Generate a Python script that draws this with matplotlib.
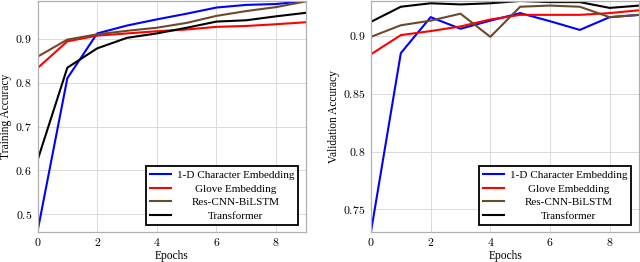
import numpy as np
import matplotlib
matplotlib.use('Agg')
import matplotlib.pyplot as plt
from matplotlib.ticker import FuncFormatter

plt.rcParams['font.family'] = ['Liberation Serif', 'DejaVu Serif']
plt.rcParams['mathtext.fontset'] = 'cm'
plt.rcParams['font.size'] = 8

epochs = list(range(10))
labels = ['1-D Character Embedding', 'Glove Embedding', 'Res-CNN-BiLSTM', 'Transformer']
colors = ['#0000ff', '#ff0000', '#6b4a2b', '#000000']

train_char = [0.461, 0.810, 0.912, 0.930, 0.944, 0.957, 0.971, 0.977, 0.979, 0.986]
train_glove = [0.833, 0.894, 0.907, 0.912, 0.917, 0.921, 0.927, 0.929, 0.933, 0.9375]
train_rescnn = [0.859, 0.898, 0.910, 0.918, 0.925, 0.936, 0.952, 0.963, 0.972, 0.985]
train_transf = [0.623, 0.834, 0.878, 0.902, 0.912, 0.925, 0.939, 0.942, 0.951, 0.959]

val_char = [0.731, 0.885, 0.916, 0.906, 0.913, 0.9195, 0.9125, 0.905, 0.916, 0.918]
val_glove = [0.884, 0.9005, 0.904, 0.908, 0.914, 0.918, 0.918, 0.918, 0.9195, 0.922]
val_rescnn = [0.899, 0.909, 0.913, 0.919, 0.899, 0.925, 0.926, 0.925, 0.916, 0.918]
val_transf = [0.912, 0.925, 0.928, 0.927, 0.928, 0.930, 0.929, 0.929, 0.924, 0.926]

fig = plt.figure(figsize=(6.4, 2.62), dpi=100)
ax1 = fig.add_axes([0.0586, 0.1164, 0.4195, 0.880])
ax2 = fig.add_axes([0.5797, 0.1164, 0.4195, 0.880])

panels = [
    (ax1, [train_char, train_glove, train_rescnn, train_transf], 'Training Accuracy', [0.5, 0.6, 0.7, 0.8, 0.9]),
    (ax2, [val_char, val_glove, val_rescnn, val_transf], 'Validation Accuracy', [0.75, 0.8, 0.85, 0.9]),
]

legends = []
for ax, series, ylabel, yticks in panels:
    for s, lab, c in zip(series, labels, colors):
        ax.plot(epochs, s, color=c, lw=1.5, label=lab)
    allv = np.concatenate(series)
    ax.set_xlim(0, 9)
    ax.set_ylim(allv.min(), allv.max())
    ax.set_xticks([0, 2, 4, 6, 8])
    ax.set_yticks(yticks)
    ax.xaxis.set_major_formatter(FuncFormatter(lambda v, p: '$%g$' % v))
    ax.yaxis.set_major_formatter(FuncFormatter(lambda v, p: '$%g$' % v))
    ax.tick_params(length=0, pad=4, labelsize=8.5)
    ax.grid(True, color='#dadada', lw=0.7)
    ax.set_axisbelow(True)
    for sp in ax.spines.values():
        sp.set_color('#b0b0b0')
        sp.set_linewidth(0.9)
    ax.set_xlabel('Epochs', fontsize=8.3, labelpad=1)
    ax.set_ylabel(ylabel, fontsize=8.3, labelpad=2)
    leg = ax.legend(loc='lower right', bbox_to_anchor=(0.97, 0.03), fontsize=8,
                    fancybox=False, framealpha=1, edgecolor='black',
                    handlelength=1.9, handletextpad=0.5, labelspacing=0.34,
                    borderpad=0.35, borderaxespad=0)
    leg.get_frame().set_linewidth(1.3)
    legends.append(leg)

# legend text is centered in pgfplots, redo the texts centered
fig.canvas.draw()
for leg in legends:
    texts = leg.get_texts()
    boxes = [t.get_window_extent() for t in texts]
    x0 = min(b.x0 for b in boxes)
    x1 = max(b.x1 for b in boxes)
    xc = (x0 + x1) / 2
    for t in texts:
        px, py = t.get_transform().transform(t.get_position())
        fx, fy = fig.transFigure.inverted().transform((xc, py))
        fig.text(fx, fy, t.get_text(), ha='center', va='baseline',
                 fontsize=t.get_fontsize(), zorder=10)
        t.set_visible(False)

fig.savefig('out.png', dpi=100)
